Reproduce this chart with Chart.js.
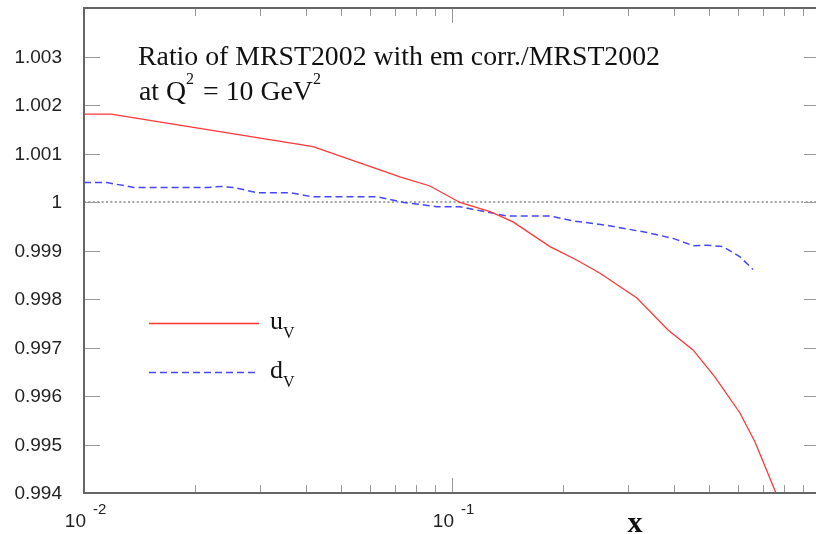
<!DOCTYPE html>
<html>
<head>
<meta charset="utf-8">
<script src="https://cdn.jsdelivr.net/npm/chart.js@4.4.1/dist/chart.umd.min.js"></script>
<style>
  html, body { margin: 0; padding: 0; background: #fff; overflow: hidden; width: 816px; height: 534px; }
  canvas { display: block; }
</style>
</head>
<body>
<canvas id="c" width="830" height="534"></canvas>
<script>
// Ratio of valence PDFs with / without QED corrections, Q^2 = 10 GeV^2
const uvX = [0.01, 0.01184, 0.04193, 0.0722, 0.0871, 0.1051, 0.1269, 0.1465, 0.1846,
             0.2187, 0.2525, 0.3181, 0.3864, 0.4518, 0.5185, 0.6061, 0.6659, 0.7592, 0.855];
const uvRatio = [1.00181, 1.00181, 1.00114, 1.00052, 1.00033, 0.99999, 0.99980, 0.99959, 0.99908,
                 0.99880, 0.99853, 0.99802, 0.99736, 0.99695, 0.99639, 0.99565, 0.99505, 0.99400, 0.99270];

const dvX = [0.01, 0.01155, 0.01367, 0.02159, 0.02356, 0.02556, 0.02952, 0.03652, 0.04139,
             0.06254, 0.07404, 0.08393, 0.09104, 0.1051, 0.1214, 0.1411, 0.1846, 0.2132,
             0.2637, 0.3388, 0.3986, 0.4518, 0.4932, 0.5450, 0.6061, 0.6576];
const dvRatio = [1.00040, 1.00040, 1.00030, 1.00030, 1.00032, 1.00030, 1.00019, 1.00019, 1.00011,
                 1.00011, 0.99999, 0.99994, 0.99990, 0.99990, 0.99981, 0.99971, 0.99971, 0.99961,
                 0.99952, 0.99937, 0.99925, 0.99910, 0.99911, 0.99908, 0.99887, 0.99861];

// reference line at ratio = 1
const unityX = [0.01, 1];
const unityY = [1, 1];

// axis ranges and tick labels
const xMin = 0.01, xMax = 1;
const yMin = 0.994, yMax = 1.004;
const yTicks = [0.994, 0.995, 0.996, 0.997, 0.998, 0.999, 1, 1.001, 1.002, 1.003, 1.004];
const yTickLabels = ['0.994', '0.995', '0.996', '0.997', '0.998', '0.999', '1', '1.001', '1.002', '1.003', ''];
const xDecades = [0.01, 0.1, 1];
const xDecadeLabels = [['10', '-2'], ['10', '-1'], null];

const titleLine1 = 'Ratio of MRST2002 with em corr./MRST2002';
const seriesNames = [['u', 'V'], ['d', 'V']];

const RED = 'rgb(255,55,55)';
const BLUE = 'rgb(70,70,255)';
const SERIF = '"Liberation Serif", "Times New Roman", serif';
const SANS = '"Liberation Sans", Arial, sans-serif';

const toPts = (xs, ys) => xs.map((x, i) => ({ x, y: ys[i] }));

// frame, inward ticks, axis labels, title and legend
const decorations = {
  id: 'decorations',
  afterDatasetsDraw(chart) {
    const { ctx, chartArea: a, scales: { x, y } } = chart;
    ctx.save();

    // inward tick marks on y (left and right) with labels on the left
    ctx.strokeStyle = '#999';
    ctx.lineWidth = 1;
    ctx.fillStyle = '#222';
    ctx.font = '19px ' + SANS;
    ctx.textAlign = 'right';
    ctx.textBaseline = 'middle';
    yTicks.forEach((v, i) => {
      const py = Math.round(y.getPixelForValue(v)) + 0.5;
      ctx.beginPath();
      ctx.moveTo(a.left, py); ctx.lineTo(a.left + 16, py);
      ctx.moveTo(a.right - 16, py); ctx.lineTo(a.right, py);
      ctx.stroke();
      if (yTickLabels[i]) ctx.fillText(yTickLabels[i], 62, py);
    });

    // inward tick marks on x (bottom and top), log spaced
    for (const d of xDecades) {
      for (let m = 1; m <= 9; m++) {
        const v = m * d;
        if (v > xMax + 1e-9) break;
        const px = Math.round(x.getPixelForValue(v)) + 0.5;
        const len = m === 1 ? 15 : 8;
        ctx.beginPath();
        ctx.moveTo(px, a.bottom); ctx.lineTo(px, a.bottom - len);
        ctx.moveTo(px, a.top); ctx.lineTo(px, a.top + len);
        ctx.stroke();
      }
    }

    // frame
    ctx.strokeStyle = '#666';
    ctx.lineWidth = 2;
    ctx.strokeRect(a.left, a.top, a.right - a.left, a.bottom - a.top);

    // x tick labels: 10 with superscript exponent
    ctx.fillStyle = '#222';
    ctx.textBaseline = 'alphabetic';
    xDecades.forEach((d, i) => {
      const lab = xDecadeLabels[i];
      if (!lab) return;
      const px = x.getPixelForValue(d);
      ctx.font = '19px ' + SANS;
      ctx.textAlign = 'right';
      ctx.fillText(lab[0], px + 2, 527);
      ctx.font = '15px ' + SANS;
      ctx.textAlign = 'left';
      ctx.fillText(lab[1], px + 9, 514);
    });

    // x axis title
    ctx.font = 'bold 30px ' + SERIF;
    ctx.textAlign = 'center';
    ctx.fillStyle = '#111';
    ctx.fillText('x', 635, 532);

    // title, two lines
    ctx.textAlign = 'left';
    ctx.font = '27.8px ' + SERIF;
    ctx.fillText(titleLine1, 138, 65);
    let tx = 139;
    const ty = 100;
    const big = '27.8px ' + SERIF;
    const sup = '16px ' + SERIF;
    const pieces = [['at Q', big, 0], ['2', sup, -16], [' = 10 GeV', big, 0], ['2', sup, -16]];
    for (const [t, f, dy] of pieces) {
      ctx.font = f;
      ctx.fillText(t, tx, ty + dy);
      tx += ctx.measureText(t).width + (dy ? 2 : 0);
    }

    // legend
    const legendRows = [
      { y: 323.5, color: RED, dash: [], text: 329 },
      { y: 372.5, color: BLUE, dash: [7, 4], text: 378 }
    ];
    legendRows.forEach((r, i) => {
      ctx.strokeStyle = r.color;
      ctx.lineWidth = 1.5;
      ctx.setLineDash(r.dash);
      ctx.beginPath();
      ctx.moveTo(149, r.y); ctx.lineTo(259, r.y);
      ctx.stroke();
      ctx.setLineDash([]);
      ctx.fillStyle = '#111';
      ctx.font = '26px ' + SERIF;
      ctx.fillText(seriesNames[i][0], 270, r.text);
      const w = ctx.measureText(seriesNames[i][0]).width;
      ctx.font = '16px ' + SERIF;
      ctx.fillText(seriesNames[i][1], 270 + w, r.text + 9);
    });

    ctx.restore();
  }
};

new Chart(document.getElementById('c'), {
  type: 'line',
  data: {
    datasets: [
      {
        label: 'unity',
        data: toPts(unityX, unityY),
        borderColor: '#888',
        borderWidth: 1.5,
        borderDash: [2, 2.4],
        pointRadius: 0,
        order: 3
      },
      {
        label: 'dV',
        data: toPts(dvX, dvRatio),
        borderColor: BLUE,
        borderWidth: 1.5,
        borderDash: [7, 4],
        pointRadius: 0,
        tension: 0,
        order: 2
      },
      {
        label: 'uV',
        data: toPts(uvX, uvRatio),
        borderColor: RED,
        borderWidth: 1.3,
        pointRadius: 0,
        tension: 0,
        order: 1
      }
    ]
  },
  options: {
    responsive: false,
    animation: false,
    devicePixelRatio: 1,
    layout: { padding: { top: 8, right: 10, bottom: 41, left: 84 } },
    plugins: { legend: { display: false }, tooltip: { enabled: false } },
    scales: {
      x: { type: 'logarithmic', min: xMin, max: xMax, display: false },
      y: { type: 'linear', min: yMin, max: yMax, display: false }
    }
  },
  plugins: [decorations]
});
</script>
</body>
</html>
